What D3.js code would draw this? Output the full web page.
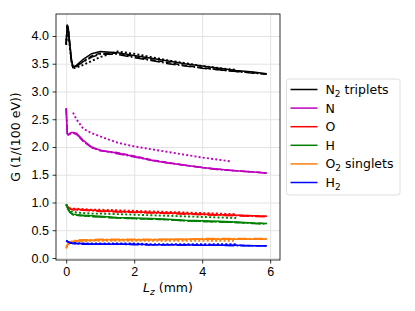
<!DOCTYPE html>
<html>
<head>
<meta charset="utf-8">
<script src="https://cdn.jsdelivr.net/npm/d3@7"></script>
<style>
  body { margin: 0; background: #fff; }
  svg { font-family: "DejaVu Sans", sans-serif; }
  .tick text { font-size: 12.5px; fill: #000; }
  .grid line { stroke: #e3e3e3; stroke-width: 1; }
  .grid path { display: none; }
</style>
</head>
<body>
<div id="chart"></div>
<script>
// sample positions along Lz (mm)
var lz = [0, 0.03, 0.06, 0.1, 0.15, 0.2, 0.3, 0.5, 0.75, 1, 1.5, 2, 2.5, 3, 3.5, 4, 4.5, 5, 5.5, 5.9];
var lzShort = lz.slice(0, 18);            // dotted runs stop near 5 mm
var lzNdot = [0.2, 0.3, 0.5, 0.75, 1, 1.5, 2, 2.5, 3, 3.5, 4, 4.5, 4.85];

var xTicks = [0, 2, 4, 6];
var yTicks = [0.0, 0.5, 1.0, 1.5, 2.0, 2.5, 3.0, 3.5, 4.0];

var species = ["N2 triplets", "N", "O", "H", "O2 singlets", "H2"];
var colors  = ["#000000", "#bf00bf", "#ff0000", "#008000", "#ff7f0e", "#0000ff"];

// one array per run: solid, dashed, dotted, dash-dot
var n2Solid   = [3.85, 4.2, 4.15, 3.9, 3.6, 3.44, 3.47, 3.58, 3.68, 3.72, 3.70, 3.65, 3.60, 3.55, 3.50, 3.46, 3.42, 3.38, 3.35, 3.32];
var n2Dashed  = [3.85, 4.18, 4.12, 3.88, 3.58, 3.43, 3.45, 3.54, 3.64, 3.69, 3.69, 3.63, 3.57, 3.52, 3.47, 3.43, 3.39, 3.36, 3.34, 3.31];
var n2Dotted  = [3.84, 4.15, 4.1, 3.85, 3.55, 3.42, 3.43, 3.48, 3.55, 3.62, 3.72, 3.68, 3.62, 3.56, 3.51, 3.46, 3.42, 3.39];
var n2DashDot = [3.85, 4.2, 4.1, 3.85, 3.56, 3.44, 3.46, 3.53, 3.62, 3.67, 3.67, 3.61, 3.56, 3.50, 3.46, 3.42, 3.39, 3.36, 3.33, 3.31];

var nSolid   = [2.70, 2.25, 2.22, 2.24, 2.26, 2.26, 2.25, 2.12, 2.00, 1.94, 1.89, 1.83, 1.76, 1.71, 1.67, 1.63, 1.60, 1.57, 1.55, 1.53];
var nDashed  = [2.68, 2.24, 2.22, 2.23, 2.25, 2.25, 2.23, 2.10, 1.99, 1.93, 1.90, 1.84, 1.77, 1.72, 1.67, 1.63, 1.60, 1.57, 1.55, 1.53];
var nDotted  = [2.62, 2.50, 2.33, 2.25, 2.19, 2.08, 2.01, 1.96, 1.91, 1.86, 1.81, 1.77, 1.74];
var nDashDot = [2.70, 2.25, 2.23, 2.24, 2.25, 2.25, 2.24, 2.11, 1.99, 1.94, 1.88, 1.82, 1.76, 1.71, 1.67, 1.63, 1.59, 1.57, 1.55, 1.53];

var oSolid   = [0.95, 0.93, 0.91, 0.89, 0.88, 0.88, 0.88, 0.87, 0.86, 0.85, 0.84, 0.83, 0.82, 0.81, 0.80, 0.79, 0.78, 0.77, 0.76, 0.75];
var oDashed  = [0.95, 0.93, 0.91, 0.89, 0.88, 0.87, 0.87, 0.86, 0.86, 0.85, 0.84, 0.83, 0.82, 0.81, 0.80, 0.79, 0.78, 0.77, 0.76, 0.75];
var oDotted  = [0.96, 0.94, 0.92, 0.90, 0.89, 0.89, 0.89, 0.88, 0.87, 0.87, 0.86, 0.85, 0.84, 0.83, 0.82, 0.81, 0.80, 0.79];
var oDashDot = [0.95, 0.93, 0.91, 0.89, 0.88, 0.87, 0.87, 0.86, 0.85, 0.84, 0.83, 0.82, 0.81, 0.80, 0.79, 0.78, 0.77, 0.76, 0.75, 0.74];

var hSolid   = [0.97, 0.93, 0.88, 0.84, 0.81, 0.79, 0.78, 0.77, 0.76, 0.75, 0.73, 0.72, 0.71, 0.70, 0.68, 0.67, 0.66, 0.65, 0.63, 0.62];
var hDashed  = [0.96, 0.92, 0.87, 0.83, 0.80, 0.78, 0.77, 0.76, 0.75, 0.74, 0.72, 0.71, 0.70, 0.69, 0.67, 0.66, 0.65, 0.64, 0.63, 0.62];
var hDotted  = [0.97, 0.94, 0.90, 0.87, 0.84, 0.83, 0.82, 0.81, 0.80, 0.80, 0.79, 0.78, 0.77, 0.76, 0.75, 0.74, 0.73, 0.72];
var hDashDot = [0.96, 0.92, 0.87, 0.83, 0.80, 0.78, 0.77, 0.76, 0.75, 0.74, 0.72, 0.71, 0.70, 0.69, 0.67, 0.66, 0.65, 0.64, 0.62, 0.61];

var o2Solid   = [0.17, 0.22, 0.25, 0.27, 0.29, 0.30, 0.31, 0.32, 0.32, 0.33, 0.33, 0.33, 0.33, 0.34, 0.34, 0.34, 0.34, 0.34, 0.34, 0.34];
var o2Dashed  = [0.18, 0.22, 0.25, 0.27, 0.28, 0.29, 0.30, 0.31, 0.32, 0.32, 0.33, 0.33, 0.33, 0.33, 0.33, 0.34, 0.34, 0.34, 0.34, 0.34];
var o2Dotted  = [0.20, 0.24, 0.26, 0.27, 0.28, 0.29, 0.30, 0.30, 0.31, 0.31, 0.31, 0.31, 0.31, 0.31, 0.31, 0.31, 0.31, 0.31];
var o2DashDot = [0.18, 0.23, 0.26, 0.28, 0.30, 0.31, 0.32, 0.33, 0.33, 0.34, 0.34, 0.34, 0.34, 0.34, 0.34, 0.35, 0.35, 0.35, 0.35, 0.35];

var h2Solid   = [0.31, 0.30, 0.29, 0.28, 0.27, 0.26, 0.26, 0.26, 0.25, 0.25, 0.25, 0.25, 0.24, 0.24, 0.24, 0.23, 0.23, 0.23, 0.22, 0.22];
var h2Dashed  = [0.31, 0.30, 0.29, 0.28, 0.27, 0.26, 0.26, 0.25, 0.25, 0.25, 0.25, 0.25, 0.24, 0.24, 0.24, 0.23, 0.23, 0.23, 0.22, 0.22];
var h2Dotted  = [0.31, 0.30, 0.29, 0.28, 0.27, 0.27, 0.27, 0.26, 0.26, 0.26, 0.26, 0.26, 0.25, 0.25, 0.25, 0.25, 0.25, 0.25];
var h2DashDot = [0.31, 0.30, 0.29, 0.28, 0.27, 0.26, 0.26, 0.25, 0.25, 0.25, 0.25, 0.24, 0.24, 0.24, 0.23, 0.23, 0.23, 0.22, 0.22, 0.22];

var dashes = { solid: null, dashed: "5.5,2.4", dotted: "2,2.2", dashdot: "9.6,2.4,1.5,2.4" };

var runs = [
  [n2Solid, lz, 0, "solid"], [n2Dashed, lz, 0, "dashed"], [n2Dotted, lzShort, 0, "dotted"], [n2DashDot, lz, 0, "dashdot"],
  [nSolid, lz, 1, "solid"], [nDashed, lz, 1, "dashed"], [nDotted, lzNdot, 1, "dotted"], [nDashDot, lz, 1, "dashdot"],
  [oSolid, lz, 2, "solid"], [oDashed, lz, 2, "dashed"], [oDotted, lzShort, 2, "dotted"], [oDashDot, lz, 2, "dashdot"],
  [hSolid, lz, 3, "solid"], [hDashed, lz, 3, "dashed"], [hDotted, lzShort, 3, "dotted"], [hDashDot, lz, 3, "dashdot"],
  [o2Solid, lz, 4, "solid"], [o2Dashed, lz, 4, "dashed"], [o2Dotted, lzShort, 4, "dotted"], [o2DashDot, lz, 4, "dashdot"],
  [h2Solid, lz, 5, "solid"], [h2Dashed, lz, 5, "dashed"], [h2Dotted, lzShort, 5, "dotted"], [h2DashDot, lz, 5, "dashdot"]
];

var W = 415, H = 311;
var margin = {top: 14, right: 135, bottom: 51, left: 56};
var width = W - margin.left - margin.right;
var height = H - margin.top - margin.bottom;

var svg = d3.select("#chart").append("svg").attr("width", W).attr("height", H);
var g = svg.append("g").attr("transform", "translate(" + margin.left + "," + margin.top + ")");

var x = d3.scaleLinear().domain([-0.3, 6.29]).range([0, width]);
var y = d3.scaleLinear().domain([-0.036, 4.396]).range([height, 0]);

// grid
g.append("g").attr("class", "grid").attr("transform", "translate(0," + height + ")")
  .call(d3.axisBottom(x).tickValues(xTicks).tickSize(-height).tickFormat(""));
g.append("g").attr("class", "grid")
  .call(d3.axisLeft(y).tickValues(yTicks).tickSize(-width).tickFormat(""));

var line = d3.line()
  .x(function(d) { return x(d[0]); })
  .y(function(d) { return y(d[1]); });

runs.forEach(function(r) {
  var pts = r[0].map(function(v, i) { return [r[1][i], v]; });
  g.append("path")
    .datum(pts)
    .attr("fill", "none")
    .attr("stroke", colors[r[2]])
    .attr("stroke-width", r[3] == "dotted" ? 1.9 : 1.5)
    .attr("stroke-dasharray", dashes[r[3]])
    .attr("d", line);
});

// axes
var xAxis = g.append("g").attr("transform", "translate(0," + height + ")")
  .call(d3.axisBottom(x).tickValues(xTicks).tickSize(3.5).tickPadding(3.5).tickFormat(d3.format("d")));
var yAxis = g.append("g")
  .call(d3.axisLeft(y).tickValues(yTicks).tickSize(3.5).tickPadding(3.5).tickFormat(d3.format(".1f")));
[xAxis, yAxis].forEach(function(a) {
  a.select(".domain").remove();
  a.selectAll(".tick line").attr("stroke", "#000").attr("stroke-width", 0.8);
});

g.append("rect").attr("width", width).attr("height", height)
  .attr("fill", "none").attr("stroke", "#000").attr("stroke-width", 0.8);

// axis labels
svg.append("text")
  .attr("transform", "translate(20," + (margin.top + height / 2) + ") rotate(-90)")
  .attr("text-anchor", "middle").attr("font-size", 12.5)
  .text("G (1/(100 eV))");

var xl = svg.append("text")
  .attr("x", margin.left + width / 2).attr("y", 292)
  .attr("text-anchor", "middle").attr("font-size", 12.5);
xl.append("tspan").attr("font-style", "italic").text("L");
xl.append("tspan").attr("font-style", "italic").attr("font-size", 9).attr("dy", 3).text("z");
xl.append("tspan").attr("dy", -3).text(" (mm)");

// legend
var lg = svg.append("g").attr("transform", "translate(286.5,79)");
lg.append("rect").attr("width", 113.5).attr("height", 116).attr("rx", 2.5)
  .attr("fill", "#fff").attr("fill-opacity", 0.8).attr("stroke", "#d5d5d5").attr("stroke-width", 0.8);

species.forEach(function(s, i) {
  var yy = 10.5 + i * 18.6;
  lg.append("line").attr("x1", 4).attr("x2", 31).attr("y1", yy).attr("y2", yy)
    .attr("stroke", colors[i]).attr("stroke-width", 1.5);
  var t = lg.append("text").attr("x", 39).attr("y", yy + 4.5).attr("font-size", 12.5);
  var m = s.match(/^([A-Z])(2)?(.*)$/);
  t.append("tspan").text(m[1]);
  if (m[2]) {
    t.append("tspan").attr("font-size", 9).attr("dy", 3).text(m[2]);
    t.append("tspan").attr("dy", -3).text(m[3]);
  }
});
</script>
</body>
</html>
